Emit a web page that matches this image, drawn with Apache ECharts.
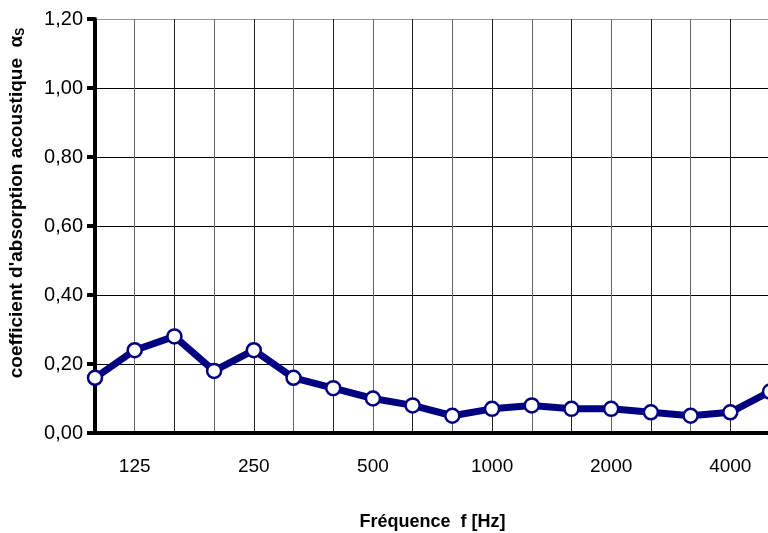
<!DOCTYPE html>
<html>
<head>
<meta charset="utf-8">
<script src="https://cdn.jsdelivr.net/npm/echarts@6/dist/echarts.min.js"></script>
<style>
  html, body { margin: 0; padding: 0; background: #fff; }
  #chart { width: 768px; height: 533px; }
</style>
</head>
<body>
<div id="chart"></div>
<script>
// third-octave bands (Hz)
var frequencies = ['100', '125', '160', '200', '250', '315', '400', '500', '630',
                   '800', '1000', '1250', '1600', '2000', '2500', '3150', '4000', '5000'];
// alpha_s
var alphaS = [0.16, 0.24, 0.28, 0.18, 0.24, 0.16, 0.13, 0.10, 0.08,
              0.05, 0.07, 0.08, 0.07, 0.07, 0.06, 0.05, 0.06, 0.12];
var yTicks = [0, 0.2, 0.4, 0.6, 0.8, 1.0, 1.2];

var chart = echarts.init(document.getElementById('chart'));

var option = {
    animation: false,
    backgroundColor: '#fff',
    grid: { left: 95, top: 19, width: 675, bottom: 100, containLabel: false, outerBoundsMode: 'none' },
    xAxis: {
        type: 'category',
        data: frequencies,
        boundaryGap: false,
        name: 'Fréquence  f [Hz]',
        nameLocation: 'middle',
        nameGap: 80,
        nameTextStyle: { fontFamily: 'Liberation Sans', fontWeight: 'bold', fontSize: 18, color: '#000' },
        axisLine: { lineStyle: { color: '#000', width: 4 } },
        axisTick: { show: false },
        axisLabel: {
            interval: function (i) { return i % 3 === 1; },
            fontFamily: 'Liberation Sans', fontSize: 19, color: '#000', margin: 24
        },
        splitLine: { show: true, interval: 0, lineStyle: { color: ['#222', '#666'], width: 1 } }
    },
    yAxis: {
        type: 'value',
        min: 0,
        max: yTicks[yTicks.length - 1],
        interval: 0.2,
        name: '{t|coefficient d\'absorption acoustique  α}{s|S}',
        nameLocation: 'middle',
        nameGap: 68,
        nameRotate: 90,
        nameTextStyle: {
            padding: [0, 0, 0, 46],
            rich: {
                t: { fontFamily: 'Liberation Sans', fontWeight: 'bold', fontSize: 19, color: '#000' },
                s: { fontFamily: 'Liberation Sans', fontWeight: 'bold', fontSize: 12, color: '#000', verticalAlign: 'bottom', padding: [8, 0, 0, 0] }
            }
        },
        axisLine: { show: true, lineStyle: { color: '#000', width: 4 } },
        axisTick: { show: true, length: 8, lineStyle: { color: '#000', width: 4 } },
        axisLabel: {
            fontFamily: 'Liberation Sans', fontSize: 20, color: '#000', margin: 12,
            formatter: function (v) { return v.toFixed(2).replace('.', ','); }
        },
        splitLine: { show: true, lineStyle: { color: ['#000', '#000', '#000', '#000', '#000', '#000', '#999'], width: 1 } }
    },
    series: [{
        type: 'line',
        data: alphaS,
        symbol: 'circle',
        symbolSize: 14,
        lineStyle: { color: '#000080', width: 7 },
        itemStyle: { color: '#fff', borderColor: '#000080', borderWidth: 2.5 },
        z: 5
    }]
};

chart.setOption(option);
</script>
</body>
</html>
